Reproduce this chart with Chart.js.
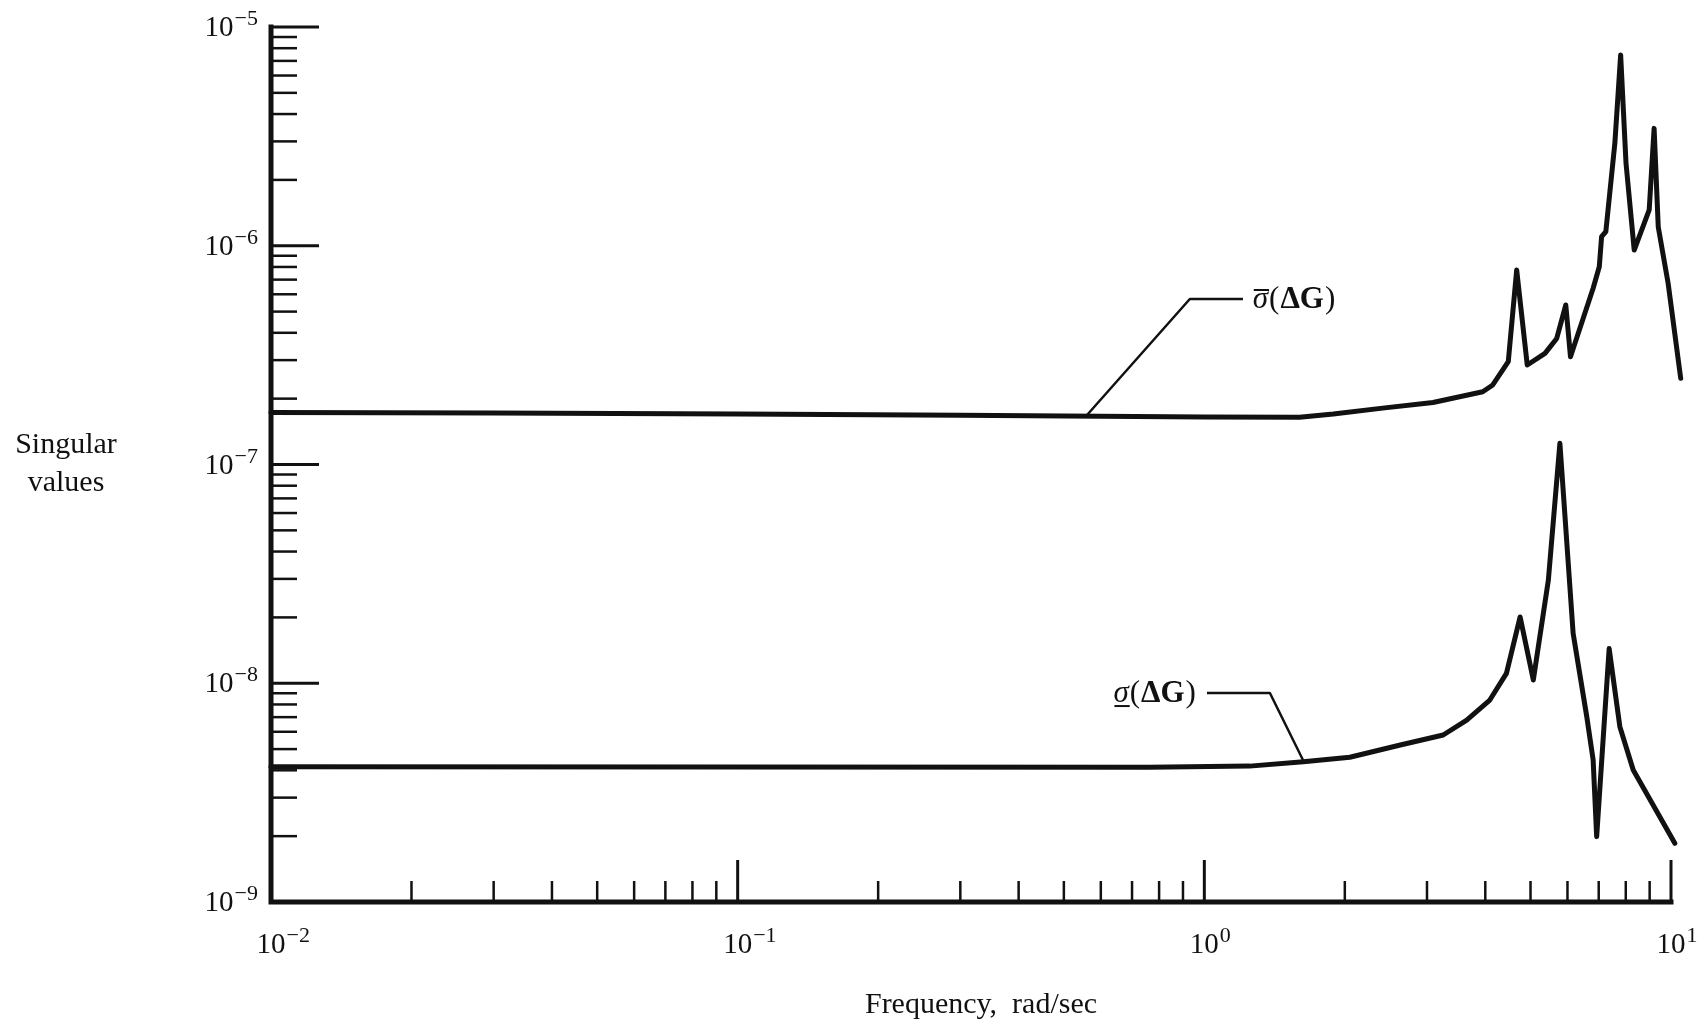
<!DOCTYPE html>
<html>
<head>
<meta charset="utf-8">
<script src="https://cdn.jsdelivr.net/npm/chart.js@4/dist/chart.umd.min.js"></script>
<style>
  html, body { margin: 0; padding: 0; background: #fff; }
  #wrap { width: 1705px; height: 1027px; }
</style>
</head>
<body>
<div id="wrap"><canvas id="c" width="1705" height="1027"></canvas></div>
<script>
// Maximum singular value of the model error, vs frequency (rad/sec)
const upperFreq = [0.01, 0.03, 0.1, 0.3, 1.0, 1.6, 1.89, 2.41, 3.09, 3.95, 4.15, 4.48, 4.67, 4.92,
                   5.37, 5.69, 5.95, 6.09, 6.81, 7.02, 7.10, 7.25, 7.58, 7.80, 8.01, 8.34, 8.98,
                   9.20, 9.39, 9.86, 10.49];
const upperValues = [1.73e-7, 1.72e-7, 1.70e-7, 1.68e-7, 1.65e-7, 1.644e-7, 1.70e-7, 1.81e-7, 1.92e-7,
                     2.15e-7, 2.31e-7, 2.95e-7, 7.75e-7, 2.85e-7, 3.22e-7, 3.77e-7, 5.36e-7, 3.11e-7,
                     6.39e-7, 8.02e-7, 1.10e-6, 1.16e-6, 2.94e-6, 7.45e-6, 2.38e-6, 9.56e-7, 1.46e-6,
                     3.44e-6, 1.22e-6, 6.73e-7, 2.48e-7];

// Minimum singular value of the model error
const lowerFreq = [0.01, 0.1, 0.76, 1.25, 1.63, 2.05, 2.63, 3.25, 3.65, 4.09, 4.44, 4.75, 5.07, 5.46,
                   5.78, 6.17, 6.60, 6.81, 6.93, 7.37, 7.77, 8.30, 10.19];
const lowerValues = [4.15e-9, 4.14e-9, 4.13e-9, 4.18e-9, 4.38e-9, 4.59e-9, 5.22e-9, 5.80e-9, 6.79e-9,
                     8.38e-9, 1.11e-8, 2.01e-8, 1.035e-8, 2.96e-8, 1.25e-7, 1.69e-8, 7.03e-9, 4.46e-9,
                     1.99e-9, 1.44e-8, 6.33e-9, 4.01e-9, 1.855e-9];

// Decade tick labels (powers of ten) and the minor multipliers within each decade
const xTickExponents = [-2, -1, 0, 1];
const yTickExponents = [-9, -8, -7, -6, -5];
const minorMultipliers = [2, 3, 4, 5, 6, 7, 8, 9];

const xAxisTitle = 'Frequency,  rad/sec';
const yAxisTitle = ['Singular', 'values'];

// Curve labels with their leader lines, placed in data coordinates
const curveNotes = [
  { symbol: 'σ', mark: 'over', align: 'left', at: [1.27, 5.71e-7],
    leader: [[1.21, 5.71e-7], [0.931, 5.71e-7], [0.56, 1.68e-7]] },
  { symbol: 'σ', mark: 'under', align: 'right', at: [0.964, 9.02e-9],
    leader: [[1.013, 9.02e-9], [1.382, 9.02e-9], [1.627, 4.46e-9]] }
];

const SERIF = '"Liberation Serif", "DejaVu Serif", serif';
const INK = '#111';

function pts(xs, ys) { return xs.map((x, i) => ({ x: x, y: ys[i] })); }

function supLabel(ctx, exp, x, y, anchor) {
  const base = '10';
  const sup = (exp < 0 ? '\u2212' : '') + Math.abs(exp);
  ctx.font = '29px ' + SERIF;
  const wb = ctx.measureText(base).width;
  ctx.font = '22px ' + SERIF;
  const ws = ctx.measureText(sup).width;
  let x0;
  if (anchor === 'right') x0 = x - wb - ws - 1;
  else x0 = x - wb / 2;           // centre the "10" on the tick
  ctx.textAlign = 'left';
  ctx.textBaseline = 'alphabetic';
  ctx.font = '29px ' + SERIF;
  ctx.fillText(base, x0, y);
  ctx.font = '22px ' + SERIF;
  ctx.fillText(sup, x0 + wb + 1, y - 11);
}

const frame = {
  id: 'frame',
  afterDraw(chart) {
    const ctx = chart.ctx;
    const xs = chart.scales.x, ys = chart.scales.y;
    const L = xs.getPixelForValue(0.01), R = xs.getPixelForValue(10);
    const T = ys.getPixelForValue(1e-5), B = ys.getPixelForValue(1e-9);
    ctx.save();
    ctx.strokeStyle = INK;
    ctx.fillStyle = INK;

    // axis lines
    ctx.lineWidth = 5;
    ctx.lineJoin = 'miter';
    ctx.lineCap = 'square';
    ctx.beginPath();
    ctx.moveTo(L, T);
    ctx.lineTo(L, B);
    ctx.lineTo(R, B);
    ctx.stroke();
    ctx.lineCap = 'butt';

    // y ticks, pointing into the plot
    yTickExponents.forEach((e, i) => {
      const y = ys.getPixelForValue(Math.pow(10, e));
      ctx.lineWidth = 3;
      ctx.beginPath(); ctx.moveTo(L, y); ctx.lineTo(L + 48, y); ctx.stroke();
      if (i < yTickExponents.length - 1) {
        ctx.lineWidth = 2.5;
        minorMultipliers.forEach(m => {
          const ym = ys.getPixelForValue(m * Math.pow(10, e));
          ctx.beginPath(); ctx.moveTo(L, ym); ctx.lineTo(L + 26, ym); ctx.stroke();
        });
      }
      supLabel(ctx, e, L - 13, y + 9, 'right');
    });

    // x ticks, pointing up
    xTickExponents.forEach((e, i) => {
      const x = xs.getPixelForValue(Math.pow(10, e));
      if (i > 0) {
        ctx.lineWidth = 3;
        ctx.beginPath(); ctx.moveTo(x, B); ctx.lineTo(x, B - 42); ctx.stroke();
      }
      if (i < xTickExponents.length - 1) {
        ctx.lineWidth = 2.5;
        minorMultipliers.forEach(m => {
          const xm = xs.getPixelForValue(m * Math.pow(10, e));
          ctx.beginPath(); ctx.moveTo(xm, B); ctx.lineTo(xm, B - 21); ctx.stroke();
        });
      }
      supLabel(ctx, e, x, B + 51, 'center');
    });

    // axis titles
    ctx.font = '30px ' + SERIF;
    ctx.textAlign = 'center';
    ctx.textBaseline = 'alphabetic';
    ctx.fillText(xAxisTitle, (L + R) / 2 + 10, B + 111);
    ctx.fillText(yAxisTitle[0], 66, 453);
    ctx.fillText(yAxisTitle[1], 66, 491);

    // curve labels
    curveNotes.forEach(n => {
      ctx.lineWidth = 2.5;
      ctx.lineJoin = 'round';
      ctx.beginPath();
      n.leader.forEach((p, k) => {
        const px = xs.getPixelForValue(p[0]), py = ys.getPixelForValue(p[1]);
        if (k === 0) ctx.moveTo(px, py); else ctx.lineTo(px, py);
      });
      ctx.stroke();

      const parts = [
        { t: n.symbol, f: 'italic 31px ' + SERIF },
        { t: '(', f: '31px ' + SERIF },
        { t: '\u0394G', f: 'bold 31px ' + SERIF },
        { t: ')', f: '31px ' + SERIF }
      ];
      let total = 0;
      parts.forEach(p => { ctx.font = p.f; p.w = ctx.measureText(p.t).width; total += p.w + 1; });
      const ax = xs.getPixelForValue(n.at[0]), ay = ys.getPixelForValue(n.at[1]);
      let x = n.align === 'right' ? ax - total : ax;
      const base = ay + 9;
      ctx.textAlign = 'left';
      parts.forEach((p, k) => {
        ctx.font = p.f;
        ctx.fillText(p.t, x, base);
        if (k === 0) {
          ctx.lineWidth = 2;
          const yb = n.mark === 'over' ? base - 18 : base + 4;
          ctx.beginPath(); ctx.moveTo(x + 1, yb); ctx.lineTo(x + p.w + 1, yb); ctx.stroke();
        }
        x += p.w + 1;
      });
    });
    ctx.restore();
  }
};

const lineStyle = {
  borderColor: INK,
  backgroundColor: INK,
  borderWidth: 5,
  pointRadius: 0,
  tension: 0,
  fill: false,
  clip: false,
  borderJoinStyle: 'round',
  borderCapStyle: 'round'
};

new Chart(document.getElementById('c'), {
  type: 'line',
  data: {
    datasets: [
      Object.assign({ label: 'max singular value', data: pts(upperFreq, upperValues) }, lineStyle),
      Object.assign({ label: 'min singular value', data: pts(lowerFreq, lowerValues) }, lineStyle)
    ]
  },
  options: {
    responsive: false,
    animation: false,
    devicePixelRatio: 1,
    layout: { padding: { left: 271, right: 34, top: 27, bottom: 125 } },
    scales: {
      x: { type: 'logarithmic', min: 0.01, max: 10, display: false },
      y: { type: 'logarithmic', min: 1e-9, max: 1e-5, display: false }
    },
    plugins: {
      colors: { enabled: false },
      legend: { display: false },
      tooltip: { enabled: false }
    }
  },
  plugins: [frame]
});
</script>
</body>
</html>
